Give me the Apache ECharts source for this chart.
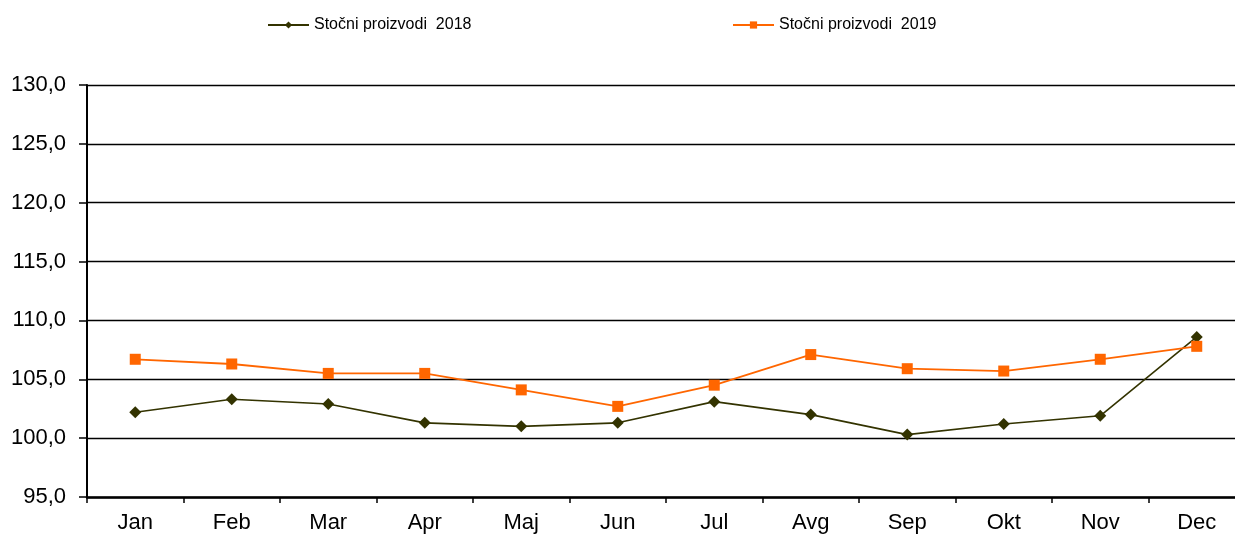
<!DOCTYPE html>
<html>
<head>
<meta charset="utf-8">
<script src="https://cdn.jsdelivr.net/npm/echarts@6/dist/echarts.min.js"></script>
<style>html,body{margin:0;padding:0;background:#fff;overflow:hidden;width:1235px;height:536px;}#c{width:1250px;height:536px;}</style>
</head>
<body>
<div id="c"></div>
<script>
const months = ['Jan','Feb','Mar','Apr','Maj','Jun','Jul','Avg','Sep','Okt','Nov','Dec'];
const name2018 = 'Stočni proizvodi  2018';
const name2019 = 'Stočni proizvodi  2019';
const values2018 = [102.2, 103.3, 102.9, 101.3, 101.0, 101.3, 103.1, 102.0, 100.3, 101.2, 101.9, 108.6];
const values2019 = [106.7, 106.3, 105.5, 105.5, 104.1, 102.7, 104.5, 107.1, 105.9, 105.7, 106.7, 107.8];
const yMin = 95, yMax = 130, yStep = 5;

const chart = echarts.init(document.getElementById('c'), null, {renderer: 'canvas'});
const font = 'Liberation Sans, Arial, Helvetica, sans-serif';
chart.setOption({
  animation: false,
  backgroundColor: '#ffffff',
  legend: [
    {data: [name2018], left: 262, top: 12, itemWidth: 41, itemHeight: 9,
     textStyle: {fontFamily: font, fontSize: 16, color: '#000'}},
    {data: [name2019], left: 727, top: 12, itemWidth: 41, itemHeight: 9,
     textStyle: {fontFamily: font, fontSize: 16, color: '#000'}}
  ],
  grid: {left: 87, top: 85, width: 1158, bottom: 39, containLabel: false},
  xAxis: {
    type: 'category', data: months, boundaryGap: true,
    axisLine: {lineStyle: {color: '#000', width: 2.5}},
    axisTick: {show: true, length: 6, lineStyle: {color: '#000', width: 1.5}},
    axisLabel: {fontFamily: font, fontSize: 22, color: '#000', margin: 15},
    splitLine: {show: false}
  },
  yAxis: {
    type: 'value', min: yMin, max: yMax, interval: yStep,
    axisLine: {show: true, lineStyle: {color: '#000', width: 2}},
    axisTick: {show: true, length: 8, lineStyle: {color: '#000', width: 1.5}},
    axisLabel: {fontFamily: font, fontSize: 22, color: '#000', margin: 21,
      formatter: v => v.toFixed(1).replace('.', ',')},
    splitLine: {show: true, lineStyle: {color: '#000', width: 1.3}}
  },
  series: [
    {name: name2018, type: 'line', data: values2018, symbol: 'diamond', symbolSize: 12,
     lineStyle: {color: '#333300', width: 1.6}, itemStyle: {color: '#333300'}},
    {name: name2019, type: 'line', data: values2019, symbol: 'rect', symbolSize: 11,
     lineStyle: {color: '#FF6600', width: 1.8}, itemStyle: {color: '#FF6600'}}
  ]
});
</script>
</body>
</html>
